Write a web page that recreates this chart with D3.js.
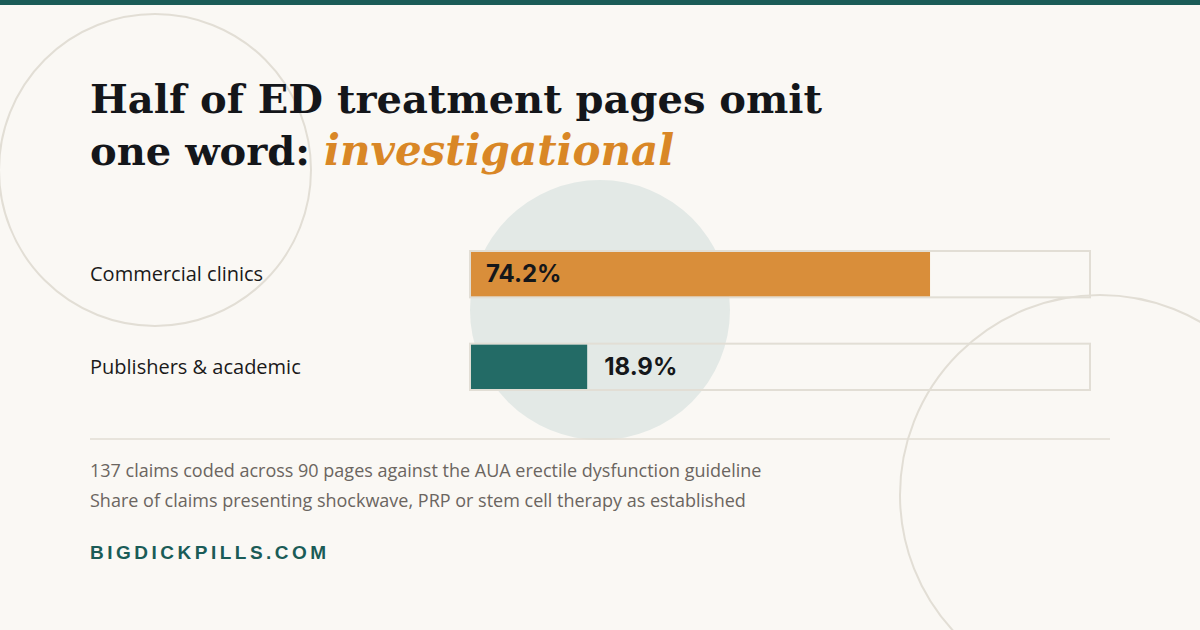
<!DOCTYPE html><html><head><meta charset="utf-8"><script src="https://cdn.jsdelivr.net/npm/d3@7"></script>
<style>body{margin:0;background:#faf8f4}</style></head><body><svg id="c" width="1200" height="630"></svg>
<script>
const categories=["Commercial clinics","Publishers & academic"];
const values=[74.2,18.9];
const colors=["#d98e3a","#236b66"];
const notes=["137 claims coded across 90 pages against the AUA erectile dysfunction guideline","Share of claims presenting shockwave, PRP or stem cell therapy as established"];
const svg=d3.select("#c");
svg.append("rect").attr("width",1200).attr("height",630).attr("fill","#faf8f4");
svg.append("rect").attr("width",1200).attr("height",5).attr("fill","#1a5c57");
svg.append("circle").attr("cx",155).attr("cy",170).attr("r",156).attr("fill","none").attr("stroke","#e2ded5").attr("stroke-width",2);
svg.append("circle").attr("cx",1100).attr("cy",495).attr("r",200).attr("fill","none").attr("stroke","#e2ded5").attr("stroke-width",2);
svg.append("circle").attr("cx",600).attr("cy",310).attr("r",130).attr("fill","#e3e9e6");
const t=svg.append("text").attr("font-family","DejaVu Serif, Georgia, serif").attr("font-weight","bold").attr("font-size",40).attr("fill","#14161a");
t.append("tspan").attr("x",90).attr("y",113).text("Half of ED treatment pages omit");
t.append("tspan").attr("x",90).attr("y",165).text("one word: ");
t.append("tspan").attr("fill","#d98726").attr("font-style","italic").attr("font-size",42).text("investigational");
const x=d3.scaleLinear().domain([0,100]).range([470,1090]);
const y=d3.scaleBand().domain(categories).range([251,390]).paddingInner(0.5);
const g=svg.selectAll("g.row").data(categories).join("g");
g.append("rect").attr("x",x(0)).attr("y",d=>y(d)).attr("width",x(100)-x(0)).attr("height",y.bandwidth()).attr("fill","none").attr("stroke","#e2ded5").attr("stroke-width",2);
g.append("rect").attr("x",x(0)+1).attr("y",d=>y(d)+1).attr("width",(d,i)=>x(values[i])-x(0)-1).attr("height",y.bandwidth()-2).attr("fill",(d,i)=>colors[i]);
g.append("text").attr("x",90).attr("y",d=>y(d)+y.bandwidth()/2+7).attr("font-family","Open Sans, Liberation Sans, sans-serif").attr("font-size",20).attr("fill","#1a1a1a").text(d=>d);
g.append("text").attr("x",(d,i)=>values[i]>40?x(0)+16:x(values[i])+17).attr("y",d=>y(d)+y.bandwidth()/2+8).attr("font-family","Inter, Liberation Sans, sans-serif").attr("font-weight","bold").attr("font-size",24).attr("fill","#15171a").text((d,i)=>values[i].toFixed(1)+"%");
svg.append("line").attr("x1",90).attr("x2",1110).attr("y1",439).attr("y2",439).attr("stroke","#e2ded5").attr("stroke-width",1.5);
svg.selectAll("text.n").data(notes).join("text").attr("x",90).attr("y",(d,i)=>477+i*30).attr("font-family","Open Sans, Liberation Sans, sans-serif").attr("font-size",18).attr("fill","#6b6560").text(d=>d);
svg.append("text").attr("x",90).attr("y",559).attr("font-family","Liberation Sans, Arial, sans-serif").attr("font-weight","bold").attr("font-size",19).attr("letter-spacing",3.5).attr("fill","#1a5c57").text("BIGDICKPILLS.COM");
</script></body></html>
